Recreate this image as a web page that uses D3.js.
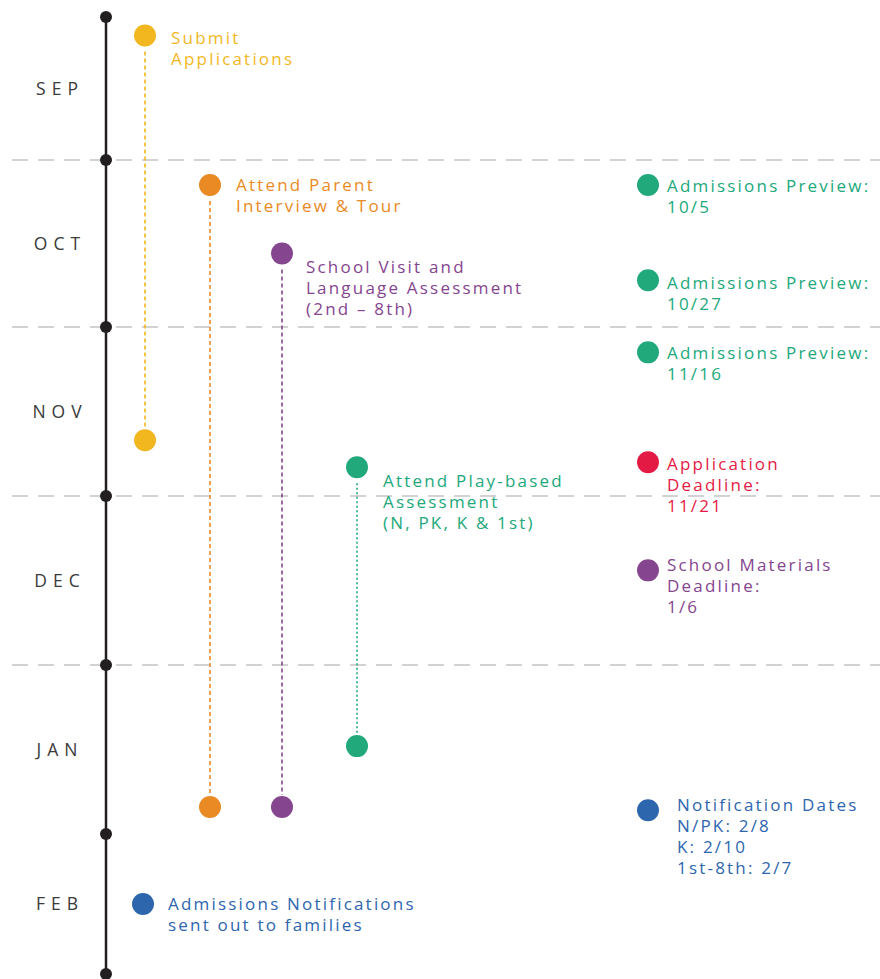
<!DOCTYPE html>
<html>
<head>
<meta charset="utf-8">
<script src="https://cdn.jsdelivr.net/npm/d3@7"></script>
<style>
  body { margin: 0; background: #fff; }
  text { font-family: "Open Sans", sans-serif; }
</style>
</head>
<body>
<script>
// months shown on the timeline, and where each one lands (month index, fractional)
var months = ['SEP', 'OCT', 'NOV', 'DEC', 'JAN', 'FEB'];
var monthEdges = [0, 1, 2, 3, 4, 5, 6];

// events: lane, start, end (null = single point), colour key, label lines
var lanes = [0, 1, 2, 3, 4, 5];
var eventStart = [0.13, 1.15, 1.56, 2.83, 1.15, 1.72, 2.15, 2.80, 3.44, 4.86, 5.50];
var eventEnd   = [2.67, 4.84, 4.84, 4.48, null, null, null, null, null, null, null];
var eventLane  = [0, 1, 2, 3, 4, 4, 4, 4, 4, 4, 5];
var eventKind  = ['yellow', 'orange', 'purple', 'green', 'green', 'green', 'green', 'red', 'purple', 'blue', 'blue'];
var eventLabels = [
  ['Submit', 'Applications'],
  ['Attend Parent', 'Interview & Tour'],
  ['School Visit and', 'Language Assessment', '(2nd \u2013 8th)'],
  ['Attend Play-based', 'Assessment', '(N, PK, K & 1st)'],
  ['Admissions Preview:', '10/5'],
  ['Admissions Preview:', '10/27'],
  ['Admissions Preview:', '11/16'],
  ['Application', 'Deadline:', '11/21'],
  ['School Materials', 'Deadline:', '1/6'],
  ['Notification Dates', 'N/PK: 2/8', 'K: 2/10', '1st-8th: 2/7'],
  ['Admissions Notifications', 'sent out to families']
];

// label nudges (layout only)
var labelDx = [26, 26, 24, 26, 19, 19, 19, 19, 19, 29, 25];
var labelDy = [2, 0, 14, 14, 1, 3, 1, 2, -5, -5, 0];

var colors = {
  yellow: '#F2B71F',
  orange: '#E98A24',
  purple: '#85458F',
  green:  '#21A87B',
  red:    '#E31B44',
  blue:   '#2E66AE'
};

var w = 880;
var h = 979;

var svg = d3.select('body')
    .append('svg')
    .attr('width', w)
    .attr('height', h);

var y = d3.scaleLinear()
    .domain(monthEdges)
    .range([17, 160, 327, 496, 665, 834, 974]);

var x = d3.scaleOrdinal()
    .domain(lanes)
    .range([145, 210, 282, 357, 648, 143]);

var axisX = 106;

// dashed month separators
svg.selectAll('line.grid')
   .data(monthEdges.slice(1, 5))
   .enter()
   .append('line')
   .attr('class', 'grid')
   .attr('x1', 12)
   .attr('x2', w)
   .attr('y1', function(d) { return y(d); })
   .attr('y2', function(d) { return y(d); })
   .attr('stroke', '#d2d2d2')
   .attr('stroke-width', 2)
   .attr('stroke-dasharray', '16,10');

// main spine
svg.append('line')
   .attr('x1', axisX)
   .attr('x2', axisX)
   .attr('y1', y(0))
   .attr('y2', y(6))
   .attr('stroke', '#231f20')
   .attr('stroke-width', 2.5);

svg.selectAll('circle.tick')
   .data(monthEdges)
   .enter()
   .append('circle')
   .attr('class', 'tick')
   .attr('cx', axisX)
   .attr('cy', function(d) { return y(d); })
   .attr('r', 6)
   .attr('fill', '#231f20');

svg.selectAll('text.month')
   .data(months)
   .enter()
   .append('text')
   .attr('class', 'month')
   .text(function(d) { return d; })
   .attr('x', 60)
   .attr('y', function(d, i) { return y(i + 0.5); })
   .attr('dy', '0.35em')
   .attr('text-anchor', 'middle')
   .attr('font-size', '17.5px')
   .attr('letter-spacing', '6px')
   .attr('fill', '#3a3a3a');

var events = eventStart.map(function(s, i) {
  return { start: s, end: eventEnd[i], lane: eventLane[i], kind: eventKind[i],
           lines: eventLabels[i], dx: labelDx[i], dy: labelDy[i] };
});

// dashed spans
svg.selectAll('line.span')
   .data(events.filter(function(d) { return d.end !== null; }))
   .enter()
   .append('line')
   .attr('class', 'span')
   .attr('x1', function(d) { return x(d.lane); })
   .attr('x2', function(d) { return x(d.lane); })
   .attr('y1', function(d) { return y(d.start) + 16; })
   .attr('y2', function(d) { return y(d.end) - 12; })
   .attr('stroke', function(d) { return colors[d.kind]; })
   .attr('stroke-width', 1.6)
   .attr('stroke-dasharray', function(d) { return d.kind === 'green' ? '2,2.5' : '4,3'; });

var dots = [];
events.forEach(function(d) {
  dots.push({ v: d.start, lane: d.lane, kind: d.kind });
  if (d.end !== null) dots.push({ v: d.end, lane: d.lane, kind: d.kind });
});

svg.selectAll('circle.event')
   .data(dots)
   .enter()
   .append('circle')
   .attr('class', 'event')
   .attr('cx', function(d) { return x(d.lane); })
   .attr('cy', function(d) { return y(d.v); })
   .attr('r', 11)
   .attr('fill', function(d) { return colors[d.kind]; });

var labels = svg.selectAll('text.label')
   .data(events)
   .enter()
   .append('text')
   .attr('class', 'label')
   .attr('x', function(d) { return x(d.lane) + d.dx; })
   .attr('y', function(d) { return y(d.start) + d.dy; })
   .attr('font-size', '17px')
   .attr('letter-spacing', '2.2px')
   .attr('fill', function(d) { return colors[d.kind]; });

labels.selectAll('tspan')
   .data(function(d) { return d.lines.map(function(l) { return { t: l, x: x(d.lane) + d.dx }; }); })
   .enter()
   .append('tspan')
   .attr('x', function(d) { return d.x; })
   .attr('dy', function(d, i) { return i === 0 ? '0.35em' : '21px'; })
   .text(function(d) { return d.t; });
</script>
</body>
</html>
